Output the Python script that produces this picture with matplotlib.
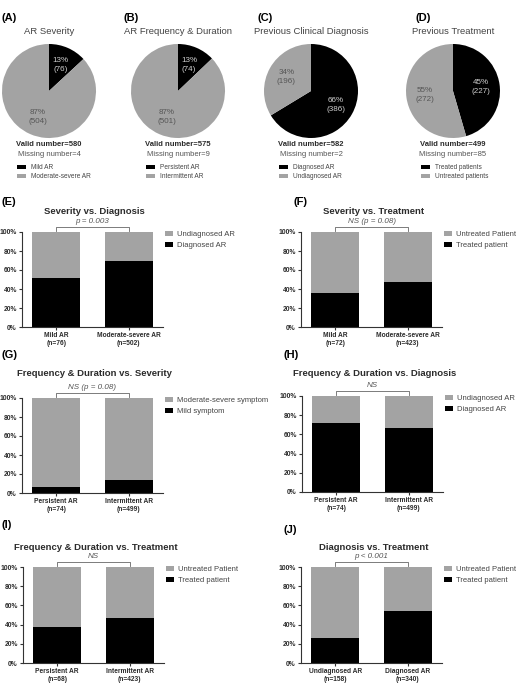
import matplotlib
matplotlib.use("Agg")
import matplotlib.pyplot as plt
import numpy as np

plt.rcParams["font.family"] = ["Liberation Sans", "DejaVu Sans"]

W, H = 524, 689
BLACK = "#000000"
GRAY = "#a3a3a3"
TXT = "#2b2b2b"

# ---- pie data (A-D)
pie_tags = ["(A)", "(B)", "(C)", "(D)"]
pie_titles = ["AR Severity", "AR Frequency & Duration",
              "Previous Clinical Diagnosis", "Previous Treatment"]
pie_counts = [[76, 504], [74, 501], [386, 196], [227, 272]]
pie_valid = [580, 575, 582, 499]
pie_missing = [4, 9, 2, 85]
pie_legends = [["Mild AR", "Moderate-severe AR"],
               ["Persistent AR", "Intermittent AR"],
               ["Diagnosed AR", "Undiagnosed AR"],
               ["Treated patients", "Untreated patients"]]

# ---- stacked bar data (E-J), black = lower segment in %
bar_tags = ["(E)", "(F)", "(G)", "(H)", "(I)", "(J)"]
bar_titles = ["Severity vs. Diagnosis", "Severity vs. Treatment",
              "Frequency & Duration vs. Severity",
              "Frequency & Duration vs. Diagnosis",
              "Frequency & Duration vs. Treatment",
              "Diagnosis vs. Treatment"]
bar_cats = [["Mild AR", "Moderate-severe AR"],
            ["Mild AR", "Moderate-severe AR"],
            ["Persistent AR", "Intermittent AR"],
            ["Persistent AR", "Intermittent AR"],
            ["Persistent AR", "Intermittent AR"],
            ["Undiagnosed AR", "Diagnosed AR"]]
bar_n = [[76, 502], [72, 423], [74, 499], [74, 499], [68, 423], [158, 340]]
bar_black = [[52, 70], [36, 47], [6, 14], [72, 67], [37, 47], [26, 54]]
bar_legends = [["Undiagnosed AR", "Diagnosed AR"],
               ["Untreated Patient", "Treated patient"],
               ["Moderate-severe symptom", "Mild symptom"],
               ["Undiagnosed AR", "Diagnosed AR"],
               ["Untreated Patient", "Treated patient"],
               ["Untreated Patient", "Treated patient"]]
bar_p = ["p = 0.003", "NS (p = 0.08)", "NS (p = 0.08)", "NS", "NS", "p < 0.001"]

fig = plt.figure(figsize=(W / 100, H / 100), dpi=100)


def px_axes(x0, y0, x1, y1):
    return fig.add_axes([x0 / W, 1 - y1 / H, (x1 - x0) / W, (y1 - y0) / H])


def ftext(x, y, s, **kw):
    kw.setdefault("color", TXT)
    fig.text(x / W, 1 - y / H, s, **kw)


# ---------------- pies ----------------
pie_cx = [49, 178, 311, 453]
pie_tag_x = [2, 123, 258, 415]
for i in range(4):
    cx, cy, r = pie_cx[i], 91, 47
    ax = px_axes(cx - r, cy - r, cx + r, cy + r)
    total = sum(pie_counts[i])
    labels = [f"{round(c / total * 100)}%\n({c})" for c in pie_counts[i]]
    wedges, texts = ax.pie(pie_counts[i], colors=[BLACK, GRAY], startangle=90,
                           counterclock=False, radius=1,
                           wedgeprops=dict(linewidth=0))
    for w, lab, col in zip(wedges, labels, ["#d0d0d0", "#555555"]):
        ang = np.deg2rad((w.theta1 + w.theta2) / 2)
        ax.text(0.6 * np.cos(ang), 0.6 * np.sin(ang), lab, ha="center",
                va="center", fontsize=5.8, color=col, linespacing=1.3)
    ax.set_xlim(-1, 1)
    ax.set_ylim(-1, 1)
    ax.set_aspect("equal")
    ax.axis("off")

    ftext(pie_tag_x[i], 18, pie_tags[i], fontsize=8, fontweight="bold",
          va="center", color="black")
    ftext(cx, 31, pie_titles[i], fontsize=6.8, ha="center", va="center",
          color="#444444")
    ftext(cx, 145, f"Valid number={pie_valid[i]}", fontsize=5.5,
          fontweight="bold", ha="center", va="center")
    ftext(cx, 155, f"Missing number={pie_missing[i]}", fontsize=5.5,
          ha="center", va="center", color="#555555")
    ax.legend(wedges, pie_legends[i], loc="upper left",
              bbox_to_anchor=((cx - 32) / W, 1 - 164 / H),
              bbox_transform=fig.transFigure, frameon=False, fontsize=4.7,
              handlelength=1.4, handleheight=0.6, handletextpad=0.8,
              labelspacing=0.3, borderpad=0, borderaxespad=0,
              labelcolor="#444444")

# ---------------- stacked bars ----------------
# (spine x, y of 100%, y of 0%, tag x, tag y, title y)
geo = [(22, 232, 327, 2, 202, 211),
       (301, 232, 327, 294, 202, 211),
       (22, 398, 493, 2, 355, 373),
       (302, 396, 492, 283, 355, 373),
       (23, 567, 663, 2, 525, 547),
       (301, 567, 663, 284, 530, 547)]
AXW = 141
for i in range(6):
    sx, ytop, ybot, tx, ty, tty = geo[i]
    ax = px_axes(sx, ytop, sx + AXW, ybot)
    xs = [0, 1]
    blk = bar_black[i]
    gry = [100 - b for b in blk]
    ax.bar(xs, gry, bottom=blk, width=0.66, color=GRAY, label=bar_legends[i][0])
    ax.bar(xs, blk, width=0.66, color=BLACK, label=bar_legends[i][1])
    ax.set_xlim(-0.47, 1.47)
    ax.set_ylim(0, 100)
    ax.set_yticks(range(0, 101, 20))
    ax.set_yticklabels([f"{v}%" for v in range(0, 101, 20)])
    ax.set_xticks(xs)
    ax.set_xticklabels([f"{c}\n(n={n})" for c, n in zip(bar_cats[i], bar_n[i])])
    for s in ["top", "right"]:
        ax.spines[s].set_visible(False)
    for s in ["left", "bottom"]:
        ax.spines[s].set_color("#333333")
        ax.spines[s].set_linewidth(0.8)
    ax.tick_params(axis="both", length=2.5, width=0.8, color="#333333",
                   labelcolor=TXT, pad=1.2)
    ax.tick_params(axis="y", labelsize=4.9)
    ax.tick_params(axis="x", labelsize=4.8)
    for lab in ax.get_xticklabels() + ax.get_yticklabels():
        lab.set_fontweight("bold")
    # significance bracket
    ax.plot([0, 0, 1, 1], [101, 105, 105, 101], color="#666666", lw=0.6,
            clip_on=False)
    ax.text(0.5, 107, bar_p[i], ha="center", va="bottom", fontsize=5.8,
            style="italic", color="#555555")
    ax.legend(loc="upper left", bbox_to_anchor=(1.015, 1.01), frameon=False,
              fontsize=5.5, handlelength=1.05, handleheight=0.65,
              handletextpad=0.45, labelspacing=0.45, borderpad=0,
              borderaxespad=0, labelcolor="#444444")

    ftext(tx, ty, bar_tags[i], fontsize=8, fontweight="bold", va="center",
          color="black")
    ftext(sx + AXW / 2 + 2, tty, bar_titles[i], fontsize=6.8,
          fontweight="bold", ha="center", va="center")

fig.savefig("out.png", dpi=100, facecolor="white")
